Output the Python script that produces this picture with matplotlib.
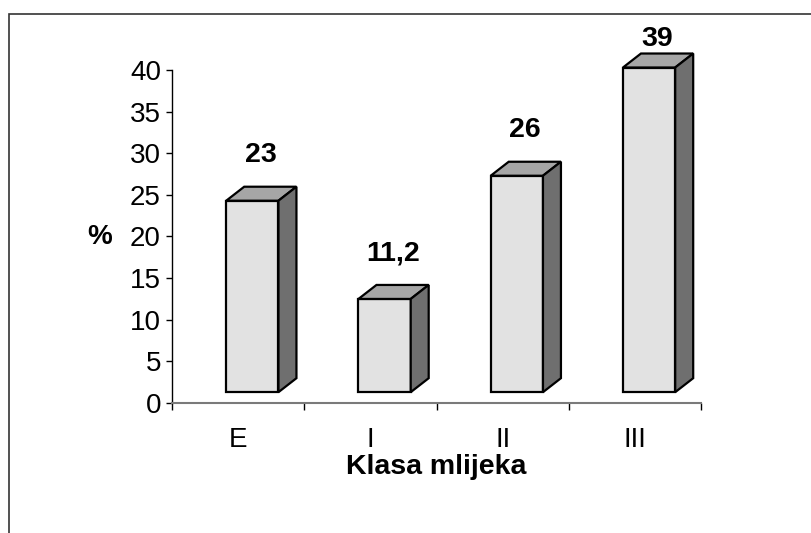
import matplotlib
matplotlib.use("Agg")
import matplotlib.pyplot as plt
from matplotlib.patches import Polygon, Rectangle

categories = ["E", "I", "II", "III"]
values = [23, 11.2, 26, 39]
value_labels = ["23", "11,2", "26", "39"]
yticks = [0, 5, 10, 15, 20, 25, 30, 35, 40]

plt.rcParams['font.family'] = ['Liberation Sans', 'DejaVu Sans']

fig = plt.figure(figsize=(8.11, 5.33), dpi=100)
ax = fig.add_axes([172/811, 1-403/533, (701-172)/811, (403-70)/533])

# 3D column geometry (data units)
base = 1.3
x_off = 0.41
w = 0.395
dx = 0.136
dy = 1.68
front_c = '#e2e2e2'
top_c = '#a6a6a6'
side_c = '#6f6f6f'
lw = 1.6

for i, v in enumerate(values):
    x0 = i + x_off
    front = Polygon([(x0, base), (x0 + w, base), (x0 + w, base + v), (x0, base + v)],
                    closed=True, facecolor=front_c, edgecolor='black', lw=lw,
                    joinstyle='miter', clip_on=False, zorder=3)
    top = Polygon([(x0, base + v), (x0 + dx, base + v + dy), (x0 + w + dx, base + v + dy), (x0 + w, base + v)],
                  closed=True, facecolor=top_c, edgecolor='black', lw=lw,
                  joinstyle='miter', clip_on=False, zorder=3)
    side = Polygon([(x0 + w, base), (x0 + w + dx, base + dy), (x0 + w + dx, base + v + dy), (x0 + w, base + v)],
                   closed=True, facecolor=side_c, edgecolor='black', lw=lw,
                   joinstyle='miter', clip_on=False, zorder=3)
    for p in (front, top, side):
        ax.add_patch(p)
    ly = min(v + 6.8, 43.7)
    ax.text(i + 0.67, ly, value_labels[i], ha='center', va='center',
            fontsize=20.5, fontweight='bold', clip_on=False)

ax.set_xlim(0, len(categories))
ax.set_ylim(0, 40)

for s in ['top', 'right']:
    ax.spines[s].set_visible(False)
ax.spines['left'].set_color('black')
ax.spines['left'].set_linewidth(1.0)
ax.spines['bottom'].set_color('#7a7a7a')
ax.spines['bottom'].set_linewidth(1.5)

ax.set_yticks(yticks)
ax.set_yticklabels([str(t) for t in yticks])
ax.tick_params(axis='y', length=4, width=1.0, pad=4, labelsize=20, direction='out')

ax.set_xticks(range(len(categories) + 1))
ax.set_xticklabels([])
ax.set_xticks([i + 0.5 for i in range(len(categories))], minor=True)
ax.set_xticklabels(categories, minor=True)
ax.tick_params(axis='x', which='major', length=5, width=1.0, direction='out', color='black')
ax.tick_params(axis='x', which='minor', length=0, pad=17, labelsize=20)

ax.text(-0.136, 0.5, '%', transform=ax.transAxes, ha='center', va='center',
        fontsize=20, fontweight='bold')
ax.text(0.5, -0.192, 'Klasa mlijeka', transform=ax.transAxes, ha='center', va='center',
        fontsize=20.5, fontweight='bold')

# outer frame (chart area border)
fig.patches.append(Rectangle((9/811, -0.1), 1.2, 1 - 14/533 + 0.1, transform=fig.transFigure,
                             fill=False, edgecolor='#333333', lw=1.2, zorder=0))

fig.savefig('out.png', dpi=100)
